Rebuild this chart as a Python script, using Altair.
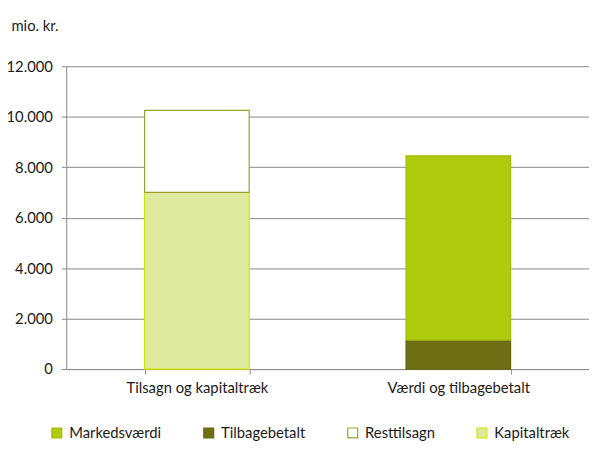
import altair as alt
import pandas as pd

categories = ["Tilsagn og kapitaltræk", "Tilsagn og kapitaltræk", "Værdi og tilbagebetalt", "Værdi og tilbagebetalt"]
series = ["Kapitaltræk", "Resttilsagn", "Tilbagebetalt", "Markedsværdi"]
values = [7000, 3250, 1150, 7300]
stack_order = [0, 1, 0, 1]

legend_order = ["Markedsværdi", "Tilbagebetalt", "Resttilsagn", "Kapitaltræk"]
fill_colors = ["#AFCB0D", "#6E6E14", "#FFFFFF", "#DDEAA0"]
stroke_colors = ["#A3BC0C", "#66680F", "#99A32C", "#D2E600"]

df = pd.DataFrame({"kategori": categories, "serie": series, "vaerdi": values, "ord": stack_order})

FONT = "Lato"
FS = 15
TXT = "#1a1a1a"

chart = alt.Chart(df).mark_bar(strokeWidth=1.2).encode(
    x=alt.X("kategori:N", sort=["Tilsagn og kapitaltræk", "Værdi og tilbagebetalt"],
            scale=alt.Scale(paddingInner=0.6, paddingOuter=0.3),
            axis=alt.Axis(title=None, labelAngle=0, tickBand="extent", labelFontSize=FS,
                          labelColor=TXT, labelPadding=7, domainColor="#888", tickColor="#888",
                          tickSize=5, labelFont=FONT)),
    y=alt.Y("vaerdi:Q", stack="zero",
            scale=alt.Scale(domain=[0, 12000]),
            axis=alt.Axis(values=[0, 2000, 4000, 6000, 8000, 10000, 12000],
                          labelExpr="replace(format(datum.value, ',.0f'), ',', '.')",
                          title="mio. kr.", titleAngle=0, titleAlign="left", titleBaseline="middle",
                          titleX=-56, titleY=-41, titleFontWeight="normal", titleFontSize=FS,
                          titleColor=TXT, titleFont=FONT,
                          labelFontSize=FS, labelColor=TXT, labelFont=FONT, labelPadding=9,
                          gridColor="#878787", domainColor="#888", tickColor="#888", tickSize=5)),
    fill=alt.Fill("serie:N", scale=alt.Scale(domain=legend_order, range=fill_colors),
                  legend=alt.Legend(title=None, orient="none", direction="horizontal",
                                    legendX=-17, legendY=364, symbolType="square", symbolSize=100,
                                    symbolStrokeWidth=1.2, columnPadding=40, labelOffset=5,
                                    labelFontSize=FS, labelColor=TXT, labelFont=FONT)),
    stroke=alt.Stroke("serie:N", scale=alt.Scale(domain=legend_order, range=stroke_colors), legend=None),
    order=alt.Order("ord:Q"),
).properties(
    width=530, height=307,
    autosize=alt.AutoSizeParams(type="none"),
    padding={"left": 59, "top": 56, "right": 0, "bottom": 78},
).configure_view(stroke=None)

chart.save("out.html", embed_options={"renderer": "svg", "actions": False})
